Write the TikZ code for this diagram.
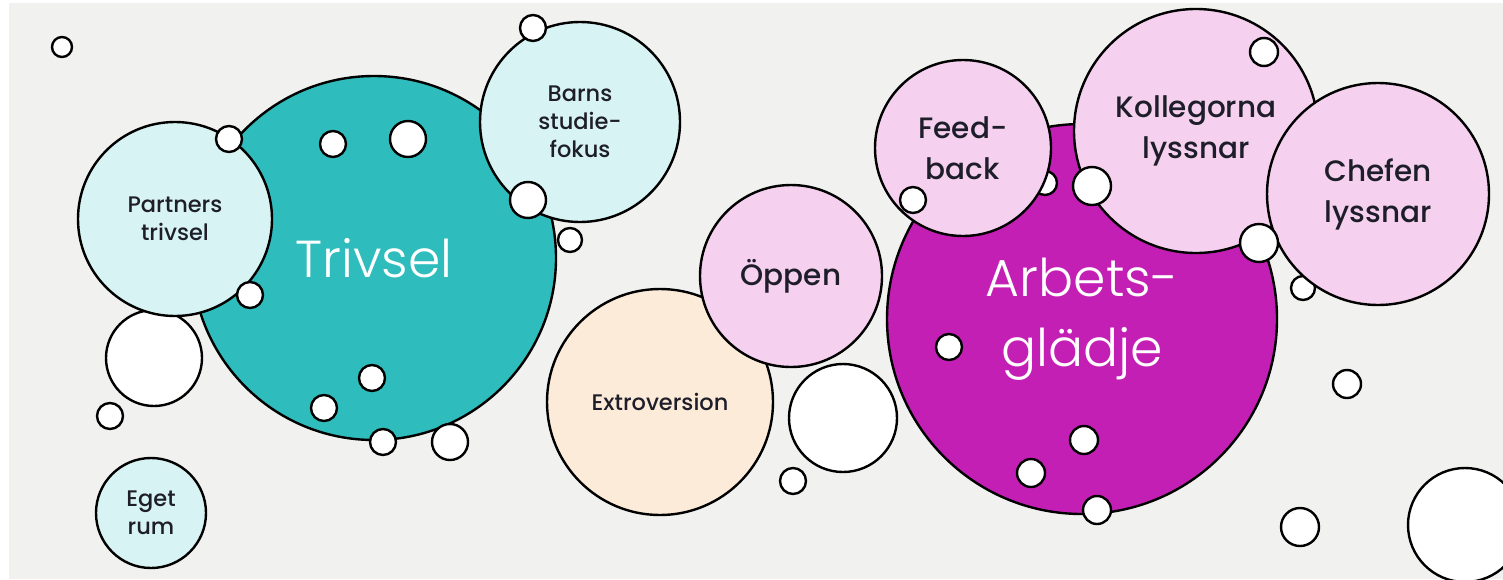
\documentclass[tikz,border=0pt]{standalone}
\usepackage{fontspec}
\setmainfont{Poppins Medium}
\newfontfamily\lightfont{Poppins Light}
\definecolor{bg}{HTML}{F1F1F0}
\definecolor{tealdark}{HTML}{2EBDBC}
\definecolor{tealpale}{HTML}{D8F3F3}
\definecolor{peach}{HTML}{FCEBD8}
\definecolor{pinkpale}{HTML}{F5D1EF}
\definecolor{arbcol}{HTML}{C41FB4}
\definecolor{ink}{HTML}{1E1E2A}
\tikzset{
  bubble/.style={draw=black, line width=2.4pt, circle, inner sep=0pt, align=center, text=ink},
  dot/.style={draw=black, line width=2.4pt, circle, fill=white, inner sep=0pt},
  smalltext/.style={font=\fontsize{22.5}{28}\selectfont},
  midtext/.style={font=\fontsize{29.5}{41}\selectfont},
  bigtext/.style={text=white, font=\lightfont\fontsize{52}{70}\selectfont}
}
\begin{document}
\begin{tikzpicture}[x=1pt,y=-1pt]
  \useasboundingbox (0,0) rectangle (1503,579);
  \fill[white] (0,0) rectangle (1503,579);
  \fill[bg] (9,3) rectangle (1503,579);
  \clip (0,0) rectangle (1503,579);

  \node[bubble, bigtext, fill=tealdark, minimum size=364pt] (trivsel) at (374,258) {Trivsel};
  \node[dot, minimum size=96pt] (w1) at (154,358) {};
  \node[bubble, smalltext, fill=tealpale, minimum size=194pt] (partners) at (175,219) {Partners\\trivsel};
  \node[bubble, smalltext, fill=tealpale, minimum size=200pt] (barns) at (580,122) {Barns\\studie-\\fokus};
  \node[bubble, smalltext, fill=tealpale, minimum size=110pt] (eget) at (151,513) {Eget\\rum};

  \node[bubble, smalltext, fill=peach, minimum size=226pt] (extro) at (660,402) {Extroversion};
  \node[bubble, midtext, fill=pinkpale, minimum size=182pt] (oppen) at (791,276) {Öppen};
  \node[dot, minimum size=108pt] (w2) at (843,418) {};
  \node[bubble, bigtext, fill=arbcol, minimum size=390pt] (arbets) at (1082,319) {Arbets-\\glädje};
  \node[dot, minimum size=24pt] (w3) at (1045,183) {};
  \node[bubble, midtext, fill=pinkpale, minimum size=176pt] (feed) at (963,148) {Feed-\\back};
  \node[bubble, midtext, fill=pinkpale, minimum size=244pt] (koll) at (1196,131) {Kollegorna\\lyssnar};
  \node[dot, minimum size=24pt] (w4) at (1303,288) {};
  \node[bubble, midtext, fill=pinkpale, minimum size=222pt] (chefen) at (1378,194) {Chefen\\lyssnar};

  \foreach \x/\y/\r [count=\i] in {62/47/10, 110/416/13, 229/139/13, 333/144/13, 408/139/18,
      528/200/18, 570/240/12, 250/295/13, 372/378/13, 324/408/13, 383/442/13, 450/442/18,
      533/28/13, 793/481/13, 1264/52/14, 1092/186/19, 913/200/13, 1259/243/19, 949/347/13,
      1347/384/14, 1084/440/14, 1031/473/14, 1097/510/14, 1300/527/19, 1465/525/57}{
    \node[dot, minimum size=2*\r pt] (d\i) at (\x,\y) {};
  }
\end{tikzpicture}
\end{document}
